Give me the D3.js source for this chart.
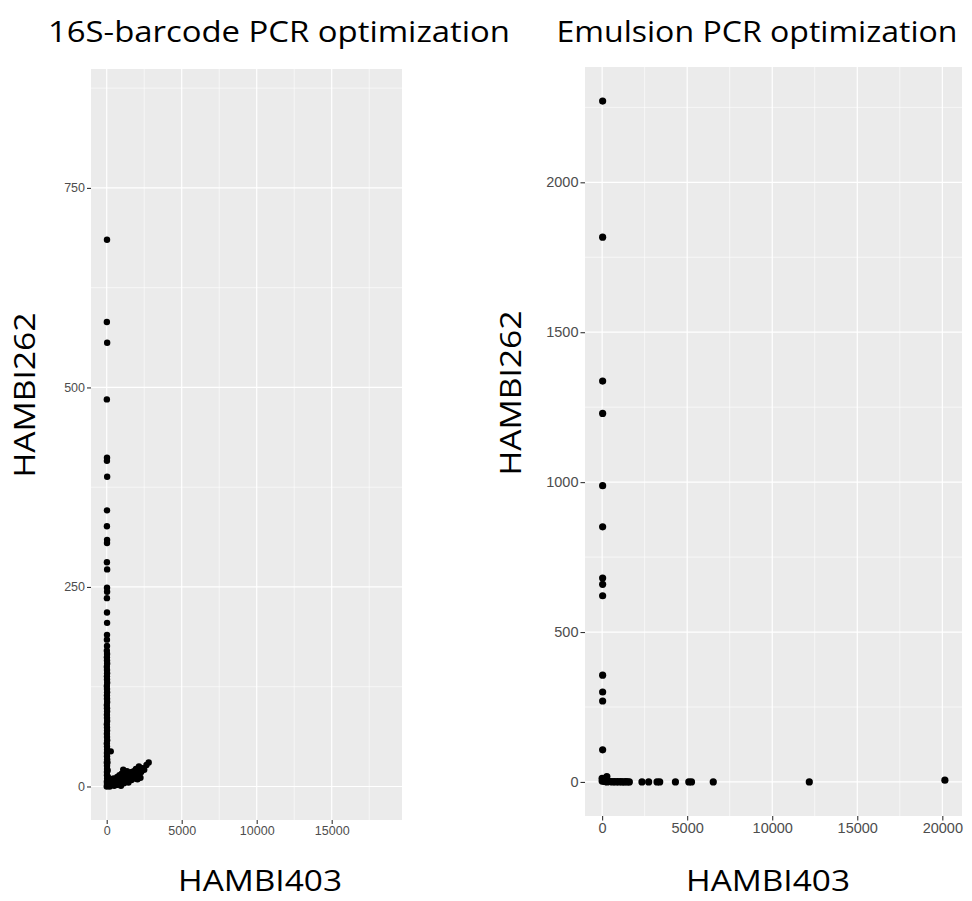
<!DOCTYPE html>
<html>
<head>
<meta charset="utf-8">
<script src="https://cdn.jsdelivr.net/npm/d3@7"></script>
<style>
  body { margin: 0; background: #fff; }
  svg { display: block; }
</style>
</head>
<body>
<svg id="chart" width="972" height="901"></svg>
<script>
// titles
let panelTitles = ["16S-barcode PCR optimization", "Emulsion PCR optimization"];
let xTitle = "HAMBI403";
let yTitle = "HAMBI262";

// tick labels
let barcodeXTicks = [0, 5000, 10000, 15000];
let barcodeYTicks = [0, 250, 500, 750];
let emulsionXTicks = [0, 5000, 10000, 15000, 20000];
let emulsionYTicks = [0, 500, 1000, 1500, 2000];

// 16S-barcode PCR: [HAMBI403, HAMBI262]
let barcodePoints = [
    [20,685],[10,582],[30,556],[10,485],[20,412],[15,408],[30,388],[20,346],[15,326],
    [25,309],[20,305],[15,281],[30,272],[20,249],[25,244],[15,236],[20,218],[25,205],
    [20,190],[15,184],[20,176],[10,170],[25,166],[15,162],[20,158],[30,154],[10,150],
    [20,146],[25,142],[15,138],[20,134],[30,130],[10,126],[20,122],[25,118],[15,114],
    [20,110],[30,106],[10,102],[20,98],[25,94],[15,90],[20,86],[30,82],[10,78],[20,74],
    [25,70],[15,66],[20,62],[30,58],[10,54],[20,50],[25,46],[15,42],[20,38],[30,34],
    [10,30],[20,26],[25,22],[15,18],[20,14],[30,10],[10,6],[20,3],[5,0],[270,44],
    [60,20],[80,12],[120,8],[50,30],
    [100,1],[150,4],[200,0],[250,6],[300,2],[350,8],[400,3],[450,10],[500,1],[550,5],
    [600,9],[650,2],[700,12],[750,6],[800,3],[850,14],[900,8],[950,1],[1000,16],[1050,10],
    [1100,21],[1150,4],[1200,17],[1250,12],[1300,7],[1350,19],[1400,14],[1450,5],[1500,16],
    [1550,11],[1600,18],[1650,8],[1700,15],[1750,12],[1800,19],[1850,14],[1900,10],[1950,22],
    [2000,17],[2050,9],[2100,13],[2150,25],[2200,20],[2250,11],[2300,18],[2400,23],[2500,21],
    [2650,27],[2800,30]
];

// Emulsion PCR: [HAMBI403, HAMBI262]
let emulsionPoints = [
    [30,2271],[30,1817],[30,1337],[30,1229],[30,988],[30,851],[30,680],[30,659],[30,621],
    [30,356],[30,300],[30,270],[30,107],[0,12],[0,3],[50,6],[100,2],[150,10],[277,18],
    [200,1],[300,0],[400,2],[500,1],[600,0],[700,1],[800,0],[900,1],[1000,0],[1100,1],
    [1200,0],[1300,0],[1400,1],[1500,0],[1600,0],[2342,0],[2735,0],[3227,0],[3385,0],
    [4309,0],[5096,0],[5254,0],[6533,0],[12180,0],[20150,6]
];

let svg = d3.select("#chart");

let drawPanel = function(cfg){
    let x = d3.scaleLinear().domain(cfg.xDomain).range([cfg.left, cfg.right]);
    let y = d3.scaleLinear().domain(cfg.yDomain).range([cfg.bottom, cfg.top]);
    let g = svg.append("g");

    g.append("rect")
        .attr("x", cfg.left).attr("y", cfg.top)
        .attr("width", cfg.right - cfg.left).attr("height", cfg.bottom - cfg.top)
        .attr("fill", "#ebebeb");

    // minor grid, halfway between major ticks
    let step = function(t){ return t[1] - t[0]; };
    let xMinor = d3.range(cfg.xTicks[0] - step(cfg.xTicks) / 2, cfg.xDomain[1], step(cfg.xTicks))
        .filter(v => v > cfg.xDomain[0]);
    let yMinor = d3.range(cfg.yTicks[0] - step(cfg.yTicks) / 2, cfg.yDomain[1], step(cfg.yTicks))
        .filter(v => v > cfg.yDomain[0]);

    g.selectAll(".vminor").data(xMinor).enter().append("line")
        .attr("x1", d => x(d)).attr("x2", d => x(d))
        .attr("y1", cfg.top).attr("y2", cfg.bottom)
        .attr("stroke", "#fff").attr("stroke-width", 0.6);
    g.selectAll(".hminor").data(yMinor).enter().append("line")
        .attr("y1", d => y(d)).attr("y2", d => y(d))
        .attr("x1", cfg.left).attr("x2", cfg.right)
        .attr("stroke", "#fff").attr("stroke-width", 0.6);
    g.selectAll(".vmajor").data(cfg.xTicks).enter().append("line")
        .attr("x1", d => x(d)).attr("x2", d => x(d))
        .attr("y1", cfg.top).attr("y2", cfg.bottom)
        .attr("stroke", "#fff").attr("stroke-width", 1.2);
    g.selectAll(".hmajor").data(cfg.yTicks).enter().append("line")
        .attr("y1", d => y(d)).attr("y2", d => y(d))
        .attr("x1", cfg.left).attr("x2", cfg.right)
        .attr("stroke", "#fff").attr("stroke-width", 1.2);

    g.selectAll("circle")
        .data(cfg.points)
        .enter()
        .append("circle")
        .attr("cx", d => x(d[0]))
        .attr("cy", d => y(d[1]))
        .attr("r", cfg.r)
        .attr("fill", "#000");

    let xAxis = g.append("g")
        .attr("transform", "translate(0," + cfg.bottom + ")")
        .call(d3.axisBottom(x).tickValues(cfg.xTicks).tickSize(cfg.tickLen).tickPadding(2).tickFormat(d3.format("d")));
    let yAxis = g.append("g")
        .attr("transform", "translate(" + cfg.left + ",0)")
        .call(d3.axisLeft(y).tickValues(cfg.yTicks).tickSize(cfg.tickLen).tickPadding(2).tickFormat(d3.format("d")));

    [xAxis, yAxis].forEach(function(a){
        a.select(".domain").remove();
        a.selectAll(".tick line").attr("stroke", "#333").attr("stroke-width", 1.1);
        a.selectAll(".tick text")
            .attr("fill", "#4d4d4d")
            .style("font-family", "'Liberation Sans', Arial, sans-serif")
            .style("font-size", cfg.fontSize + "px");
    });

    let label = function(txt, px, py, len, rotate){
        svg.append("text")
            .attr("x", px).attr("y", py)
            .attr("text-anchor", "middle")
            .attr("transform", rotate ? "rotate(-90," + px + "," + py + ")" : null)
            .attr("textLength", len)
            .attr("lengthAdjust", "spacingAndGlyphs")
            .style("font-family", "'Open Sans', sans-serif")
            .style("font-size", cfg.labelSize + "px")
            .attr("fill", "#000")
            .text(txt);
    };
    label(cfg.title, cfg.titleX, cfg.titleY, cfg.titleLen, false);
    label(xTitle, cfg.xLabelX, cfg.xLabelY, 164, false);
    label(yTitle, cfg.yLabelX, cfg.yLabelY, 165, true);
};

drawPanel({
    points: barcodePoints, xTicks: barcodeXTicks, yTicks: barcodeYTicks,
    left: 91, right: 402, top: 69, bottom: 820,
    xDomain: [-1047, 19687], yDomain: [-42, 899],
    r: 3.2, tickLen: 4, fontSize: 12.5, labelSize: 30,
    title: panelTitles[0], titleX: 279, titleY: 42, titleLen: 462,
    xLabelX: 260, xLabelY: 891, yLabelX: 35, yLabelY: 395
});

drawPanel({
    points: emulsionPoints, xTicks: emulsionXTicks, yTicks: emulsionYTicks,
    left: 585, right: 962, top: 67, bottom: 816,
    xDomain: [-1007, 21157], yDomain: [-113.6, 2384.6],
    r: 3.6, tickLen: 4.5, fontSize: 14.5, labelSize: 30,
    title: panelTitles[1], titleX: 757, titleY: 42, titleLen: 401,
    xLabelX: 768, xLabelY: 891, yLabelX: 521, yLabelY: 393
});
</script>
</body>
</html>
